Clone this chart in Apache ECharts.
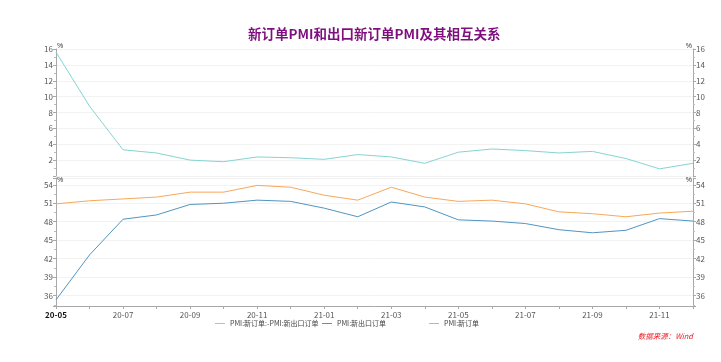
<!DOCTYPE html>
<html><head><meta charset="utf-8">
<script src="https://cdn.jsdelivr.net/npm/echarts@6/dist/echarts.min.js"></script>
<style>html,body{margin:0;padding:0;background:#fff;}#c{width:721px;height:362px;}</style>
</head><body><div id="c"></div>
<script>
const categories = ['20-05','20-06','20-07','20-08','20-09','20-10','20-11','20-12','21-01','21-02','21-03','21-04','21-05','21-06','21-07','21-08','21-09','21-10','21-11','21-12'];
const diffValues = [15.6,8.8,3.3,2.9,2.0,1.8,2.4,2.3,2.1,2.7,2.4,1.6,3.0,3.4,3.2,2.9,3.1,2.2,0.9,1.6];
const exportOrders = [35.3,42.6,48.4,49.1,50.8,51.0,51.5,51.3,50.2,48.8,51.2,50.4,48.3,48.1,47.7,46.7,46.2,46.6,48.5,48.1];
const newOrders = [50.9,51.4,51.7,52.0,52.8,52.8,53.9,53.6,52.3,51.5,53.6,52.0,51.3,51.5,50.9,49.6,49.3,48.8,49.4,49.7];
const names = ['PMI:新订单:-PMI:新出口订单','PMI:新出口订单','PMI:新订单'];
const colors = ['#86d3d3','#5195c0','#f7a85a'];

const FONT = '"Noto Sans CJK SC","Noto Sans",sans-serif';
const chart = echarts.init(document.getElementById('c'));
const axisLineStyle = {lineStyle:{color:'#a8a8a8'}};
const labelStyle = {fontSize:8, color:'#555', fontFamily:FONT};
function yAx(gridIndex, pos, min, max, gap, opts){
  return Object.assign({
    type:'value', gridIndex, position:pos, min, max,
    name:'%', nameLocation:'end', nameGap:gap, nameMoveOverlap:false,
    nameTextStyle:{fontSize:7, color:'#333', align: pos==='left'?'left':'right', verticalAlign:'middle', padding: pos==='left'?[0,0,0,1]:[0,1,0,0]},
    axisLine:{show:true, lineStyle:{color:'#a8a8a8'}},
    axisTick:{show:true, length:3, lineStyle:{color:'#a8a8a8'}},
    minorTick:{show:true, splitNumber:2, length:2, lineStyle:{color:'#bbb'}},
    axisLabel:Object.assign({margin:3, showMinLabel:false, showMaxLabel: gridIndex===0}, labelStyle),
    splitLine:{show: pos==='left', lineStyle:{color:'#f2f2f2'}}
  }, opts||{});
}
chart.setOption({
  backgroundColor:'#fff',
  animation:false,
  title:{text:'新订单PMI和出口新订单PMI及其相互关系', left:243, top:22,
    textStyle:{fontSize:13.5, fontWeight:'bold', color:'#7f0f7f', fontFamily:FONT}},
  legend:[
    {data:[names[0]], left:215, top:320},
    {data:[names[1]], left:322, top:320},
    {data:[names[2]], left:429, top:320}
  ].map(l=>Object.assign(l,{icon:'rect', itemWidth:10, itemHeight:1, itemGap:0, padding:0,
      textStyle:{fontSize:7, color:'#444', fontFamily:FONT}})),
  graphic:[{type:'text', right:28, top:332, style:{text:'数据来源：Wind', fill:'#ee1c25', font:'italic 7.5px '+FONT}}],
  grid:[
    {left:56, right:28, top:49, height:127},
    {left:56, right:28, top:178, height:128}
  ],
  xAxis:[
    {type:'category', gridIndex:0, data:categories, boundaryGap:false, show:false},
    {type:'category', gridIndex:1, data:categories, boundaryGap:false,
      axisLine:axisLineStyle,
      axisTick:{show:true, interval:0, length:3, lineStyle:{color:'#a8a8a8'}},
      axisLabel:Object.assign({interval:1, margin:5,
        formatter:(v,i)=> i===0 ? '{b|'+v+'}' : v,
        rich:{b:{fontWeight:'bold', color:'#111', fontSize:8, fontFamily:FONT}}}, labelStyle),
      splitLine:{show:false}}
  ],
  yAxis:[
    yAx(0,'left',0,16,3,{interval:2}),
    yAx(0,'right',0,16,3,{interval:2}),
    yAx(1,'left',34.3,55.1,-2,{splitNumber:7}),
    yAx(1,'right',34.3,55.1,-2,{splitNumber:7})
  ],
  series:[
    {name:names[0], type:'line', xAxisIndex:0, yAxisIndex:0, data:diffValues, showSymbol:false, symbol:'none', lineStyle:{width:1, color:colors[0]}, itemStyle:{color:colors[0]}},
    {name:names[1], type:'line', xAxisIndex:1, yAxisIndex:2, data:exportOrders, showSymbol:false, symbol:'none', lineStyle:{width:1, color:colors[1]}, itemStyle:{color:colors[1]}},
    {name:names[2], type:'line', xAxisIndex:1, yAxisIndex:2, data:newOrders, showSymbol:false, symbol:'none', lineStyle:{width:1, color:colors[2]}, itemStyle:{color:colors[2]}}
  ]
});
</script></body></html>
